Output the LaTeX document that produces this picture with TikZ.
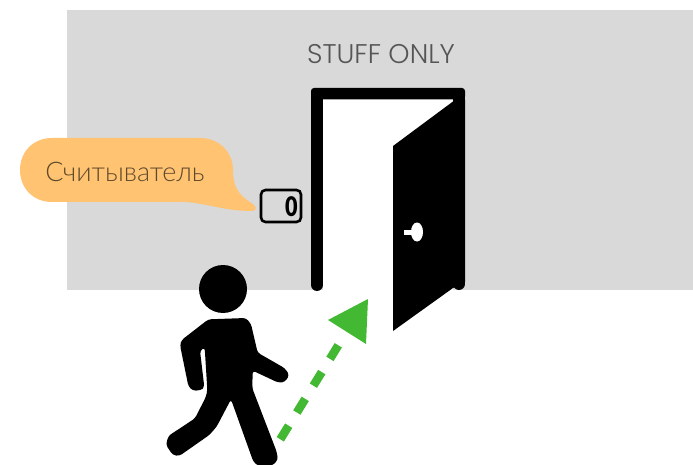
\documentclass[tikz,border=0pt]{standalone}
\usepackage{fontspec}
\setmainfont{Lato Light}
\newfontfamily\signfont{Poppins Light}
\newfontfamily\digitfont[FakeStretch=0.8]{Lato Black}
\definecolor{wallgray}{HTML}{D9D9D9}
\definecolor{bubbleorange}{HTML}{FFC372}
\definecolor{arrowgreen}{HTML}{43B933}
\definecolor{signtext}{HTML}{555555}
\definecolor{bubbletext}{HTML}{5F4A2C}
\tikzset{
  signlabel/.style={text=signtext,font=\signfont\fontsize{27}{27}\selectfont,inner sep=0pt},
  bubblelabel/.style={text=bubbletext,font=\fontsize{27}{27}\selectfont,inner sep=0pt},
  readerbox/.style={draw=black,line width=2.6pt,rounded corners=4.5pt,minimum width=40pt,minimum height=32pt,inner sep=0pt},
  framepart/.style={draw=black,line width=12pt,line cap=round},
  flowdash/.style={draw=arrowgreen,line width=8.5pt,dash pattern=on 16pt off 15.5pt}
}
\begin{document}
\begin{tikzpicture}[x=1pt,y=-1pt]
\useasboundingbox (0,0) rectangle (693,465);
\fill[wallgray] (67,10) rectangle (693,290);
% door opening
\fill[white] (323,99) rectangle (453,290);
% frame
\fill[black,rounded corners=3pt] (311,88) rectangle (465,99.5);
\draw[framepart] (317,285) -- (317,95);
\draw[framepart] (459,284) -- (459,95);
% door leaf
\fill[black] (393,146) -- (455,100) -- (465,100) -- (465,282) -- (453,288) -- (393,331) -- cycle;
\fill[white] (417,232) ellipse (6 and 9.5);
\fill[white] (404,229.5) rectangle (414,234.5);
% sign
\node[signlabel] (sign) at (381,54) {STUFF ONLY};
% reader
\node[readerbox] (reader) at (281,206) {};
\node[inner sep=0pt,font=\digitfont\fontsize{27}{27}\selectfont] (digit) at (291.5,206.5) {0};
% bubble
\fill[bubbleorange] (52,138) -- (200,138) .. controls (220,138) and (233,153) .. (233,170)
  .. controls (233,192) and (243,197) .. (254,205)
  .. controls (257,208) and (256,211) .. (251,211)
  .. controls (225,211) and (205,203) .. (185,202)
  -- (52,202) .. controls (33,202) and (20,188) .. (20,170)
  .. controls (20,152) and (33,138) .. (52,138) -- cycle;
\node[bubblelabel] (bubble) at (125,172) {Считыватель};
% person
\fill[black] (223,289) circle (24);
\begin{scope}[shift={(170,310)},x=0.3333pt,y=-0.3333pt]
\fill[black,rounded corners=3pt]
  (115,28) -- (228,24) -- (243,42) -- (263,128) -- (345,175) -- (358,195) -- (345,216) -- (325,218)
  -- (248,182) -- (247,235) -- (320,425) -- (324,450) -- (305,468) -- (265,468) -- (250,455) -- (183,268) -- (140,350) -- (118,375)
  -- (28,438) -- (8,435) -- (-12,405) -- (-5,378) -- (75,325) -- (108,260) -- (112,240) -- (104,112)
  -- (90,122) -- (103,232) -- (92,241) -- (68,242) -- (55,228) -- (30,105) -- (35,90) -- cycle;
\end{scope}
% arrow
\coordinate (flowstart) at (280.3,439.3);
\coordinate (flowend) at (338.3,345.3);
\path[flowdash] (flowstart) -- (flowend);
\coordinate (tipa) at (328,320);
\coordinate (tipb) at (368,299);
\coordinate (tipc) at (366,344);
\fill[arrowgreen] (tipa) -- (tipb) -- (tipc) -- cycle;
\end{tikzpicture}
\end{document}
